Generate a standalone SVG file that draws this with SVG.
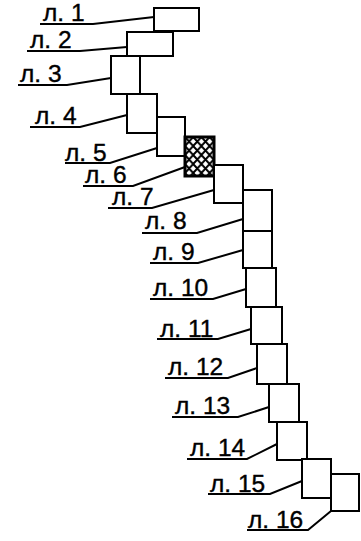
<svg xmlns="http://www.w3.org/2000/svg" width="361" height="541" viewBox="0 0 361 541">
<style>
.s{fill:#fff;stroke:#000;stroke-width:2}
.h{fill:url(#hatch);stroke:#000;stroke-width:3}
.l{fill:none;stroke:#000;stroke-width:2}
text{font-family:"Liberation Sans",Arial,sans-serif;font-size:24.5px;fill:#000;stroke:#000;stroke-width:0.4}
</style>
<defs>
<pattern id="hatch" patternUnits="userSpaceOnUse" x="185" y="137" width="8.2" height="9">
<rect width="8.2" height="9" fill="#fff"/>
<path d="M0,0L8.2,9M8.2,0L0,9" stroke="#000" stroke-width="2"/>
</pattern>
</defs>
<g id="connectors">
<path class="l" d="M40,24H93L154,17"/>
<path class="l" d="M27,51H80L127,47"/>
<path class="l" d="M18,85H67L111,78"/>
<path class="l" d="M30,127H80L127,115"/>
<path class="l" d="M65,163H110L157,148"/>
<path class="l" d="M83,186H133L185,167"/>
<path class="l" d="M108,208H152L214,190"/>
<path class="l" d="M142,233H197L243,219"/>
<path class="l" d="M150,263H198L243,250"/>
<path class="l" d="M150,299H213L246,289"/>
<path class="l" d="M157,339H218L251,329"/>
<path class="l" d="M165,378H228L257,368"/>
<path class="l" d="M172,417H238L269,407"/>
<path class="l" d="M187,459H247L277,444"/>
<path class="l" d="M208,494H270L302,481"/>
<path class="l" d="M247,530H308L331,511"/>
</g>
<g id="n1"><rect class="s" x="154" y="8" width="45" height="23"/><text x="43" y="21">л. 1</text></g>
<g id="n2"><rect class="s" x="127" y="32" width="46" height="24"/><text x="30" y="48">л. 2</text></g>
<g id="n3"><rect class="s" x="111" y="56" width="29" height="38"/><text x="20" y="82">л. 3</text></g>
<g id="n4"><rect class="s" x="127" y="94" width="30" height="39"/><text x="35" y="124">л. 4</text></g>
<g id="n5"><rect class="s" x="157" y="117" width="28" height="39"/><text x="65" y="161">л. 5</text></g>
<g id="n6"><rect class="h" x="185" y="137" width="29" height="39"/><text x="85" y="183">л. 6</text></g>
<g id="n7"><rect class="s" x="214" y="165" width="29" height="38"/><text x="112" y="205">л. 7</text></g>
<g id="n8"><rect class="s" x="243" y="190" width="29" height="41"/><text x="145" y="229">л. 8</text></g>
<g id="n9"><rect class="s" x="243" y="231" width="29" height="37"/><text x="153" y="260">л. 9</text></g>
<g id="n10"><rect class="s" x="246" y="268" width="30" height="39"/><text x="153" y="296">л. 10</text></g>
<g id="n11"><rect class="s" x="251" y="307" width="31" height="37"/><text x="160" y="337">л. 11</text></g>
<g id="n12"><rect class="s" x="257" y="344" width="30" height="40"/><text x="168" y="375">л. 12</text></g>
<g id="n13"><rect class="s" x="269" y="384" width="30" height="38"/><text x="175" y="414">л. 13</text></g>
<g id="n14"><rect class="s" x="277" y="422" width="30" height="38"/><text x="190" y="456">л. 14</text></g>
<g id="n15"><rect class="s" x="302" y="459" width="29" height="39"/><text x="210" y="492">л. 15</text></g>
<g id="n16"><rect class="s" x="331" y="474" width="28" height="37"/><text x="248" y="528">л. 16</text></g>
</svg>
